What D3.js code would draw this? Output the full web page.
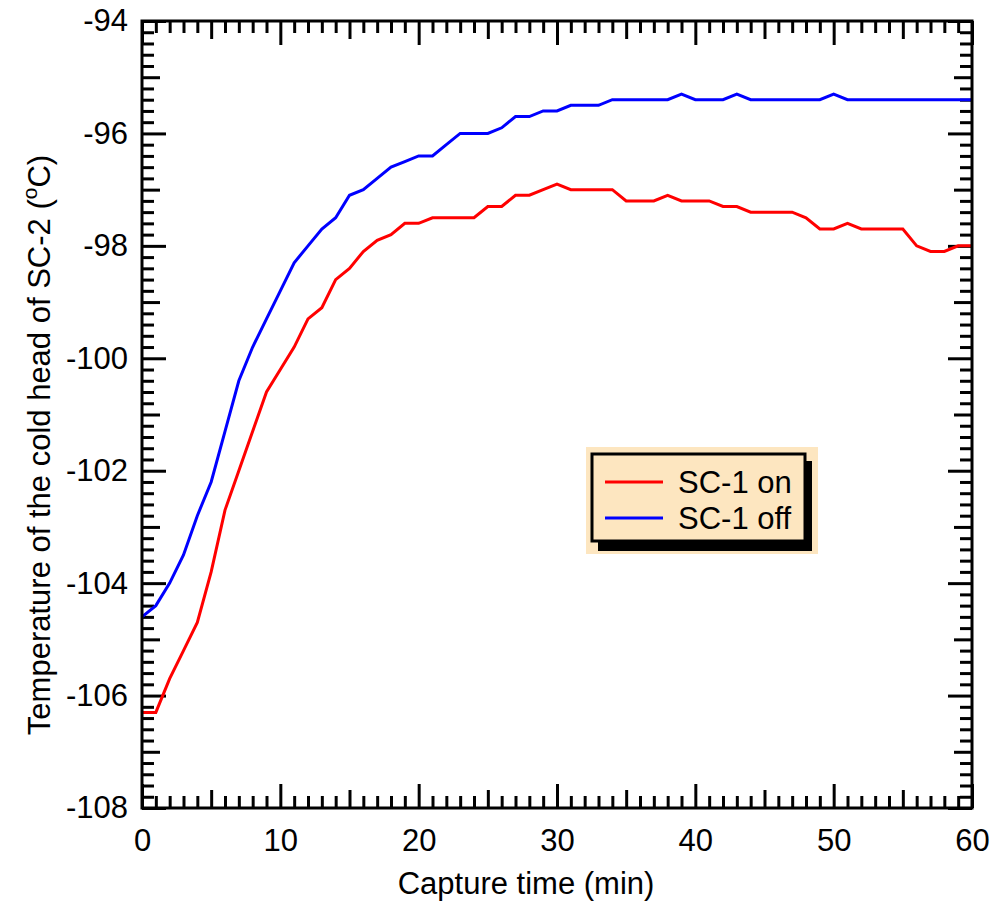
<!DOCTYPE html>
<html>
<head>
<meta charset="utf-8">
<script src="https://cdn.jsdelivr.net/npm/d3@7"></script>
<style>
    html, body { margin: 0; padding: 0; background: #ffffff; }
    svg { display: block; font-family: 'Liberation Sans', Arial, Helvetica, sans-serif; }
</style>
</head>
<body>
<div id="chart"></div>
<script>
// Capture time in minutes, one reading per minute
const minutes = d3.range(0, 61);

// Temperature of the cold head of SC-2, SC-1 running
const scOn = [
    -106.3, -106.3, -105.7, -105.2, -104.7, -103.8, -102.7, -102.0, -101.3, -100.6,
    -100.2, -99.8, -99.3, -99.1, -98.6, -98.4, -98.1, -97.9, -97.8, -97.6,
    -97.6, -97.5, -97.5, -97.5, -97.5, -97.3, -97.3, -97.1, -97.1, -97.0,
    -96.9, -97.0, -97.0, -97.0, -97.0, -97.2, -97.2, -97.2, -97.1, -97.2,
    -97.2, -97.2, -97.3, -97.3, -97.4, -97.4, -97.4, -97.4, -97.5, -97.7,
    -97.7, -97.6, -97.7, -97.7, -97.7, -97.7, -98.0, -98.1, -98.1, -98.0,
    -98.0
];

// Temperature of the cold head of SC-2, SC-1 stopped
const scOff = [
    -104.6, -104.4, -104.0, -103.5, -102.8, -102.2, -101.3, -100.4, -99.8, -99.3,
    -98.8, -98.3, -98.0, -97.7, -97.5, -97.1, -97.0, -96.8, -96.6, -96.5,
    -96.4, -96.4, -96.2, -96.0, -96.0, -96.0, -95.9, -95.7, -95.7, -95.6,
    -95.6, -95.5, -95.5, -95.5, -95.4, -95.4, -95.4, -95.4, -95.4, -95.3,
    -95.4, -95.4, -95.4, -95.3, -95.4, -95.4, -95.4, -95.4, -95.4, -95.4,
    -95.3, -95.4, -95.4, -95.4, -95.4, -95.4, -95.4, -95.4, -95.4, -95.4,
    -95.4
];

const seriesNames = ['SC-1 on', 'SC-1 off'];
const seriesColors = ['#ff0000', '#0000ff'];

const xTickLabels = [0, 10, 20, 30, 40, 50, 60];
const yTickLabels = [-108, -106, -104, -102, -100, -98, -96, -94];

const width = 995;
const height = 909;
const margin = { top: 21, right: 23, bottom: 101, left: 142 };
const innerWidth = width - margin.left - margin.right;
const innerHeight = height - margin.top - margin.bottom;
const fontSize = 31;

const svg = d3.select('#chart')
    .append('svg')
    .attr('width', width)
    .attr('height', height);

const chartGroup = svg.append('g')
    .attr('transform', `translate(${margin.left},${margin.top})`);

const x = d3.scaleLinear().domain([0, 60]).range([0, innerWidth]);
const y = d3.scaleLinear().domain([-108, -94]).range([innerHeight, 0]);

// tick levels: minor / middle / major, all drawn inward on the four sides
const xAll = d3.range(0, 61);
const xLevels = [
    { values: xAll.filter((v) => v % 5 !== 0), size: 12 },
    { values: xAll.filter((v) => v % 5 === 0 && v % 10 !== 0), size: 18 },
    { values: xAll.filter((v) => v % 10 === 0), size: 24 }
];
const yIdx = d3.range(0, 71);
const yAt = (i) => -108 + i * 0.2;
const yLevels = [
    { values: yIdx.filter((i) => i % 5 !== 0).map(yAt), size: 12 },
    { values: yIdx.filter((i) => i % 5 === 0 && i % 10 !== 0).map(yAt), size: 18 },
    { values: yIdx.filter((i) => i % 10 === 0).map(yAt), size: 24 }
];

function styleTicks(g) {
    g.select('.domain').remove();
    g.selectAll('.tick line')
        .attr('stroke', '#000')
        .attr('stroke-width', 3);
    g.selectAll('.tick text').remove();
}

xLevels.forEach((level) => {
    chartGroup.append('g')
        .attr('transform', `translate(0,${innerHeight})`)
        .call(d3.axisBottom(x).tickValues(level.values).tickSizeInner(-level.size).tickSizeOuter(0))
        .call(styleTicks);
    chartGroup.append('g')
        .call(d3.axisTop(x).tickValues(level.values).tickSizeInner(-level.size).tickSizeOuter(0))
        .call(styleTicks);
});

yLevels.forEach((level) => {
    chartGroup.append('g')
        .call(d3.axisLeft(y).tickValues(level.values).tickSizeInner(-level.size).tickSizeOuter(0))
        .call(styleTicks);
    chartGroup.append('g')
        .attr('transform', `translate(${innerWidth},0)`)
        .call(d3.axisRight(y).tickValues(level.values).tickSizeInner(-level.size).tickSizeOuter(0))
        .call(styleTicks);
});

// tick labels, plain hyphen for the minus sign
const plainFormat = (d) => String(d);

const xLabelAxis = chartGroup.append('g')
    .attr('transform', `translate(0,${innerHeight})`)
    .call(d3.axisBottom(x).tickValues(xTickLabels).tickSize(0).tickPadding(21).tickFormat(plainFormat));
xLabelAxis.select('.domain').remove();
xLabelAxis.selectAll('text')
    .attr('font-family', null)
    .attr('font-size', fontSize)
    .attr('fill', '#000');

const yLabelAxis = chartGroup.append('g')
    .call(d3.axisLeft(y).tickValues(yTickLabels).tickSize(0).tickPadding(14).tickFormat(plainFormat));
yLabelAxis.select('.domain').remove();
yLabelAxis.selectAll('text')
    .attr('font-family', null)
    .attr('font-size', fontSize)
    .attr('fill', '#000');

// data lines
const line = d3.line()
    .x((d, i) => x(minutes[i]))
    .y((d) => y(d));

[scOn, scOff].forEach((values, index) => {
    chartGroup.append('path')
        .datum(values)
        .attr('fill', 'none')
        .attr('stroke', seriesColors[index])
        .attr('stroke-width', 3)
        .attr('d', line);
});

// frame
chartGroup.append('rect')
    .attr('x', 0)
    .attr('y', 0)
    .attr('width', innerWidth)
    .attr('height', innerHeight)
    .attr('fill', 'none')
    .attr('stroke', '#000')
    .attr('stroke-width', 3);

// axis titles
svg.append('text')
    .attr('x', 526)
    .attr('y', 894)
    .attr('text-anchor', 'middle')
    .attr('font-size', fontSize)
    .text('Capture time (min)');

const yTitle = svg.append('text')
    .attr('transform', 'translate(50,445) rotate(-90)')
    .attr('text-anchor', 'middle')
    .attr('font-size', fontSize);
yTitle.append('tspan').text('Temperature of the cold head of SC-2 (');
yTitle.append('tspan')
    .attr('font-size', 21)
    .attr('dy', -13)
    .text('o');
yTitle.append('tspan')
    .attr('dy', 13)
    .text('C)');

// legend
const legend = svg.append('g').attr('class', 'legend');

legend.append('rect')
    .attr('x', 586).attr('y', 447)
    .attr('width', 232).attr('height', 107)
    .attr('fill', '#fde6c0');

legend.append('rect')
    .attr('x', 598).attr('y', 461)
    .attr('width', 214).attr('height', 90)
    .attr('fill', '#000');

legend.append('rect')
    .attr('x', 592).attr('y', 454)
    .attr('width', 213).attr('height', 87)
    .attr('fill', '#fde6c0')
    .attr('stroke', '#000')
    .attr('stroke-width', 3);

seriesNames.forEach((name, index) => {
    const ly = 482 + index * 36;
    legend.append('line')
        .attr('x1', 605).attr('x2', 663)
        .attr('y1', ly).attr('y2', ly)
        .attr('stroke', seriesColors[index])
        .attr('stroke-width', 3);
    legend.append('text')
        .attr('x', 678)
        .attr('y', ly + 11)
        .attr('font-size', fontSize)
        .text(name);
});
</script>
</body>
</html>
